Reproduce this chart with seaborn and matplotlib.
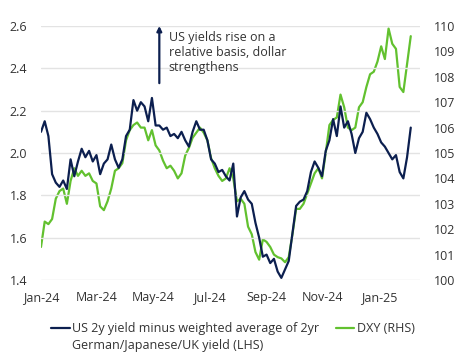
import numpy as np
import pandas as pd
import matplotlib
matplotlib.use("Agg")
import matplotlib.pyplot as plt
import matplotlib.dates as mdates
from matplotlib.lines import Line2D
import seaborn as sns

# ---- data (every 4 days from 1 Jan 2024) ----
dates = pd.date_range("2024-01-01", periods=101, freq="4D")

us_spread = [
    2.10, 2.15, 2.08, 1.90, 1.86, 1.84, 1.87, 1.83, 1.97, 1.89,
    1.96, 2.02, 1.98, 2.01, 1.96, 1.99, 1.90, 1.95, 1.97, 2.04,
    1.97, 1.93, 1.97, 2.08, 2.11, 2.25, 2.20, 2.24, 2.22, 2.15,
    2.26, 2.13, 2.13, 2.11, 2.12, 2.08, 2.09, 2.07, 2.10, 2.06,
    2.03, 2.10, 2.15, 2.11, 2.11, 2.06, 1.97, 1.95, 1.91, 1.92,
    1.89, 1.87, 1.95, 1.70, 1.79, 1.82, 1.78, 1.76, 1.67, 1.60,
    1.51, 1.52, 1.48, 1.50, 1.44, 1.41, 1.45, 1.49, 1.62, 1.75,
    1.77, 1.78, 1.82, 1.91, 1.96, 1.93, 1.89, 2.01, 2.06, 2.16,
    2.08, 2.22, 2.12, 2.15, 2.09, 2.00, 2.07, 2.10, 2.19, 2.16,
    2.12, 2.09, 2.05, 2.03, 2.00, 1.97, 1.99, 1.91, 1.88, 1.98,
    2.12,
]

dxy = [
    101.3, 102.3, 102.2, 102.4, 103.2, 103.5, 103.6, 103.0, 103.9, 104.4,
    104.1, 104.3, 104.1, 104.2, 103.9, 103.8, 102.9, 102.75, 103.1, 103.6,
    104.3, 104.4, 104.6, 105.5, 105.9, 106.1, 106.2, 106.0, 106.0, 105.5,
    105.9, 105.3, 105.1, 104.7, 104.4, 104.5, 104.3, 104.0, 104.2, 104.9,
    105.2, 105.6, 105.8, 106.0, 105.8, 105.5, 104.8, 104.4, 104.1, 103.9,
    104.0, 104.4, 104.0, 103.1, 103.2, 103.0, 102.1, 101.8, 101.1, 100.8,
    101.6, 101.5, 101.3, 101.0, 100.9, 100.85, 100.7, 100.9, 101.8, 102.8,
    102.8, 103.0, 103.4, 103.8, 104.2, 104.4, 104.0, 105.0, 106.1, 106.3,
    106.4, 107.3, 106.8, 106.0, 105.9, 106.0, 106.8, 107.0, 107.6, 108.1,
    108.2, 108.6, 109.2, 108.7, 109.9, 109.3, 109.1, 107.6, 107.4, 108.5,
    109.6,
]

left_ticks = [1.4, 1.6, 1.8, 2.0, 2.2, 2.4, 2.6]
right_ticks = [100, 101, 102, 103, 104, 105, 106, 107, 108, 109, 110]

label_us_line1 = "US 2y yield minus weighted average of 2yr"
label_us_line2 = "German/Japanese/UK yield (LHS)"
label_dxy = "DXY (RHS)"
annotation = "US yields rise on a\nrelative basis, dollar\nstrengthens"

NAVY = "#0c1f4f"
GREEN = "#62c12f"
TEXT = "#333333"
FS = 9

df = pd.DataFrame({"date": dates, "us": us_spread, "dxy": dxy})

sns.set_theme(style="white")
plt.rcParams["font.family"] = ["Open Sans", "DejaVu Sans"]

fig = plt.figure(figsize=(4.64, 3.61), dpi=100)
ax = fig.add_axes([41 / 464, 1 - 280 / 361, (420 - 41) / 464, (280 - 26) / 361])
ax2 = ax.twinx()

sns.lineplot(data=df, x="date", y="us", ax=ax2, color=NAVY, linewidth=1.6, zorder=3)
sns.lineplot(data=df, x="date", y="dxy", ax=ax, color=GREEN, linewidth=1.6, zorder=2)

# green on base axes (drawn under), navy on twin: swap tick sides so LHS = yield
ax.yaxis.tick_right()
ax2.yaxis.tick_left()

ax.set_ylim(100, 110)
ax2.set_ylim(1.4, 2.6)
ax.set_yticks(right_ticks)
ax2.set_yticks(left_ticks)
ax2.set_yticklabels([f"{t:.1f}" for t in left_ticks])

ax.set_xlim(pd.Timestamp("2024-01-01"), pd.Timestamp("2025-02-14"))
ax.xaxis.set_major_locator(mdates.MonthLocator(bymonth=[1, 3, 5, 7, 9, 11]))
ax.xaxis.set_major_formatter(mdates.DateFormatter("%b-%y"))

for a in (ax, ax2):
    a.set_xlabel("")
    a.set_ylabel("")
    for s in a.spines.values():
        s.set_visible(False)
    a.tick_params(axis="both", length=0, labelsize=FS, colors=TEXT)
ax.tick_params(axis="y", pad=10)
ax2.tick_params(axis="y", pad=10)
ax.tick_params(axis="x", pad=8)

ax2.yaxis.grid(True, color="#e3e3e3", linewidth=1.0)
ax2.set_axisbelow(True)
ax.patch.set_visible(False)
ax2.patch.set_visible(False)

# annotation arrow & text
ax2.annotate("", xy=(pd.Timestamp("2024-05-08"), 2.60),
             xytext=(pd.Timestamp("2024-05-08"), 2.33),
             arrowprops=dict(arrowstyle="-|>", color=NAVY, lw=1.6,
                             mutation_scale=7, shrinkA=0, shrinkB=0))
ax2.text(pd.Timestamp("2024-05-18"), 2.575, annotation, fontsize=FS,
         color=TEXT, va="top", ha="left", linespacing=1.2)

handles = [Line2D([], [], color=NAVY, lw=1.6), Line2D([], [], color=GREEN, lw=1.6)]
leg = fig.legend(handles, [label_us_line1, label_dxy], loc="upper left",
                 bbox_to_anchor=(46 / 464, 1 - 317 / 361), ncol=2, frameon=False,
                 fontsize=FS, handlelength=1.5, handletextpad=0.2,
                 columnspacing=1.3, labelcolor=TEXT, borderaxespad=0)

fig.canvas.draw()
bb = leg.get_texts()[0].get_window_extent()
fig.text(bb.x0 / fig.bbox.width, (bb.y0 - 17) / fig.bbox.height, label_us_line2,
         fontsize=FS, color=TEXT, ha="left", va="bottom")

fig.savefig("out.png", dpi=100)
